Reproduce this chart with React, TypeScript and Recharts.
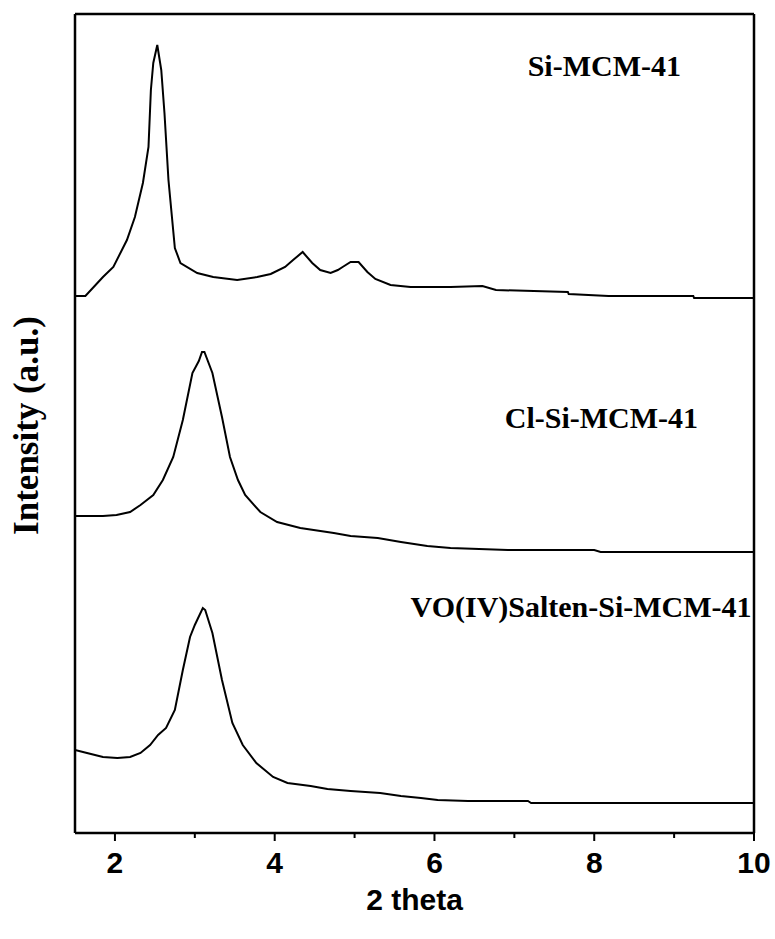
import React from 'react';
import { LineChart, Line, XAxis, YAxis, ReferenceDot } from 'recharts';

// 2 theta (deg) and intensity (a.u.) for each sample
const siX = [1.5, 1.63, 1.85, 1.98, 2.15, 2.25, 2.35, 2.42, 2.45, 2.48, 2.53, 2.58, 2.62, 2.67, 2.75, 2.82, 3.03, 3.23, 3.53, 3.78, 3.95, 4.13, 4.23, 4.35, 4.47, 4.57, 4.70, 4.79, 4.85, 4.95, 5.05, 5.16, 5.26, 5.45, 5.70, 6.20, 6.60, 6.77, 7.67, 7.68, 8.18, 9.24, 9.25, 10.0];
const siY = [537, 537, 556, 566, 593, 616, 650, 686, 743, 770, 788, 763, 720, 653, 585, 570, 560, 556, 553, 556, 559, 566, 573, 581, 570, 563, 560, 563, 566, 571, 571, 561, 554, 548, 546, 546, 547, 543, 541, 539, 537, 537, 535, 535];

const clX = [1.5, 1.85, 2.02, 2.19, 2.32, 2.48, 2.60, 2.73, 2.85, 2.97, 3.05, 3.09, 3.12, 3.22, 3.34, 3.44, 3.54, 3.63, 3.82, 4.03, 4.32, 4.74, 4.95, 5.29, 5.58, 5.91, 6.20, 6.92, 8.0, 8.08, 10.0];
const clY = [317, 317, 318, 321, 328, 338, 353, 376, 413, 460, 472, 481, 481, 460, 416, 376, 353, 338, 321, 311, 305, 300, 297, 295, 291, 287, 285, 283, 283, 281, 281];

const voX = [1.5, 1.65, 1.85, 2.03, 2.19, 2.32, 2.44, 2.54, 2.64, 2.75, 2.85, 2.94, 3.0, 3.10, 3.13, 3.22, 3.34, 3.47, 3.60, 3.77, 3.98, 4.16, 4.45, 4.66, 4.95, 5.32, 5.58, 5.83, 6.04, 6.42, 7.17, 7.21, 10.0];
const voY = [83, 80, 76, 75, 76, 80, 88, 98, 105, 123, 163, 196, 208, 225, 223, 200, 153, 110, 88, 70, 56, 50, 47, 44, 42, 40, 37, 35, 33, 32, 32, 30, 30];

const xTicks = [2, 3, 4, 5, 6, 7, 8, 9, 10];
const yTicks = [797, 776, 755, 733, 712, 690, 669, 647, 626, 604, 583, 561, 540, 522, 500, 478, 454, 429, 404, 379, 354, 329, 304, 278, 253, 227, 202, 177, 151, 126, 101, 76, 51, 25];

const labels = [
  { text: 'Si-MCM-41', x: 9.086, y: 757 },
  { text: 'Cl-Si-MCM-41', x: 9.3, y: 405 },
  { text: 'VO(IV)Salten-Si-MCM-41', x: 9.97, y: 216 },
];

const zip = (xs: number[], ys: number[]) => xs.map((x, i) => ({ x, y: ys[i] }));
const siData = zip(siX, siY);
const clData = zip(clX, clY);
const voData = zip(voX, voY);

const SERIF = 'Liberation Serif, Times New Roman, serif';
const SANS = 'Liberation Sans, Arial, sans-serif';

const XTick = (props: any) => {
  const { x, y, payload } = props;
  const major = payload.value % 2 === 0;
  return (
    <g>
      <line x1={x} x2={x} y1={y} y2={y + (major ? 8 : 5)} stroke="#000" strokeWidth={2} />
      {major && (
        <text x={x} y={y + 40} textAnchor="middle" fontFamily={SANS} fontWeight="bold" fontSize={30} fill="#000">
          {payload.value}
        </text>
      )}
    </g>
  );
};

const XTitle = (props: any) => {
  const vb = props.viewBox;
  return (
    <text x={vb.x + vb.width / 2} y={vb.y + 77} textAnchor="middle" fontFamily={SANS} fontWeight="bold" fontSize={30} fill="#000">
      2 theta
    </text>
  );
};

const YTitle = (props: any) => {
  const vb = props.viewBox;
  const cx = vb.x - 37;
  const cy = vb.y + vb.height / 2 + 2;
  return (
    <text x={cx} y={cy} transform={`rotate(-90, ${cx}, ${cy})`} textAnchor="middle" fontFamily={SERIF} fontWeight="bold" fontSize={35} fill="#000">
      Intensity (a.u.)
    </text>
  );
};

const makeNote = (text: string) => (props: any) => {
  const vb = props.viewBox;
  return (
    <text x={vb.x} y={vb.y} textAnchor="end" fontFamily={SERIF} fontWeight="bold" fontSize={30} fill="#000">
      {text}
    </text>
  );
};

export default function App() {
  return (
    <div style={{ position: 'absolute', left: 0, top: 0, width: 775, height: 939, background: '#fff' }}>
      <LineChart width={775} height={939} margin={{ top: 14, right: 21, left: 75, bottom: 46 }}>
        <XAxis
          dataKey="x"
          type="number"
          domain={[1.5, 10]}
          ticks={xTicks}
          interval={0}
          tick={<XTick />}
          tickLine={false}
          tickSize={0}
          tickMargin={0}
          height={60}
          allowDataOverflow
          axisLine={{ stroke: '#000', strokeWidth: 2.5 }}
          label={{ content: <XTitle /> }}
        />
        <XAxis
          xAxisId="top"
          orientation="top"
          mirror
          type="number"
          domain={[1.5, 10]}
          tick={false}
          tickLine={false}
          axisLine={{ stroke: '#000', strokeWidth: 2.5 }}
        />
        <YAxis
          type="number"
          domain={[0, 819]}
          ticks={yTicks}
          interval={0}
          mirror
          tick={false}
          tickSize={3}
          tickLine={{ stroke: '#000', strokeWidth: 1.5 }}
          allowDataOverflow
          axisLine={{ stroke: '#000', strokeWidth: 2.5 }}
          label={{ content: <YTitle /> }}
        />
        <YAxis
          yAxisId="r"
          orientation="right"
          type="number"
          domain={[0, 819]}
          ticks={yTicks}
          interval={0}
          mirror
          tick={false}
          tickSize={3}
          tickLine={{ stroke: '#000', strokeWidth: 1.5 }}
          axisLine={{ stroke: '#000', strokeWidth: 2.5 }}
        />
        <Line data={siData} dataKey="y" type="linear" stroke="#000" strokeWidth={2} dot={false} isAnimationActive={false} />
        <Line data={clData} dataKey="y" type="linear" stroke="#000" strokeWidth={2} dot={false} isAnimationActive={false} />
        <Line data={voData} dataKey="y" type="linear" stroke="#000" strokeWidth={2} dot={false} isAnimationActive={false} />
        {labels.map((l) => (
          <ReferenceDot key={l.text} x={l.x} y={l.y} r={0} fill="none" stroke="none" label={{ content: makeNote(l.text) }} />
        ))}
      </LineChart>
    </div>
  );
}
